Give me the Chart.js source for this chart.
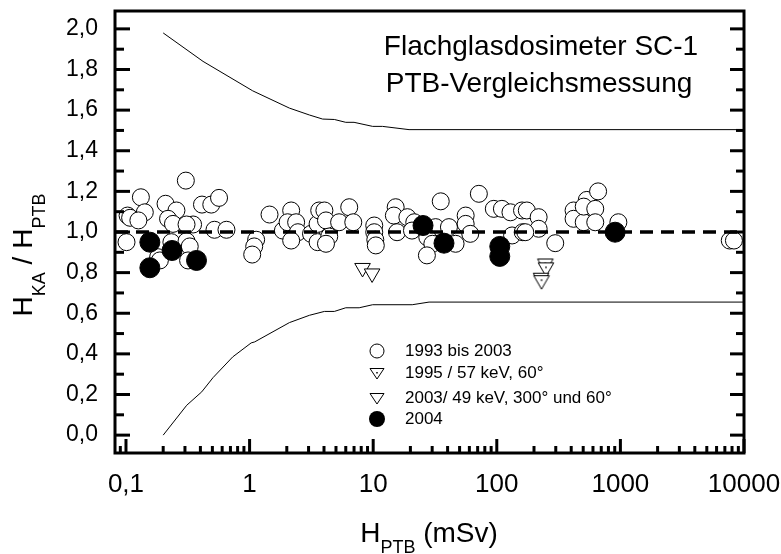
<!DOCTYPE html>
<html lang="de">
<head>
<meta charset="UTF-8">
<title>Flachglasdosimeter SC-1 – PTB-Vergleichsmessung</title>
<script src="https://cdn.jsdelivr.net/npm/chart.js@4"></script>
<style>
  html, body { margin: 0; padding: 0; background: #fff; }
  #wrap { width: 781px; height: 554px; }
</style>
</head>
<body>
<div id="wrap"><canvas id="chart" width="781" height="554"></canvas></div>
<script>
const FONT = "'Liberation Sans', Arial, sans-serif";

// Axis ticks
const xTicks = [0.1, 1, 10, 100, 1000, 10000];
const xMinorTicks = [0.09, 0.2, 0.3, 0.4, 0.5, 0.6, 0.7, 0.8, 0.9, 2, 3, 4, 5, 6, 7, 8, 9,
  20, 30, 40, 50, 60, 70, 80, 90, 200, 300, 400, 500, 600, 700, 800, 900,
  2000, 3000, 4000, 5000, 6000, 7000, 8000, 9000];
const yTicks = [0, 0.2, 0.4, 0.6, 0.8, 1.0, 1.2, 1.4, 1.6, 1.8, 2.0];
const yMinorTicks = [0.1, 0.3, 0.5, 0.7, 0.9, 1.1, 1.3, 1.5, 1.7, 1.9];

// Tolerance limits
const upperX = [0.2, 0.42, 1.06, 2.1, 3.05, 3.9, 4.85, 6.0, 7.0, 9.9, 11.9, 19.5, 10000];
const upperY = [1.98, 1.84, 1.695, 1.61, 1.576, 1.556, 1.554, 1.54, 1.54, 1.52, 1.52, 1.504, 1.504];
const lowerX = [0.2, 0.31, 0.41, 0.506, 0.73, 1.03, 1.1, 2.1, 3.05, 4.03, 4.85, 6.0, 7.7, 9.9, 20.7, 28.3, 10000];
const lowerY = [0.0, 0.147, 0.213, 0.283, 0.385, 0.454, 0.459, 0.554, 0.59, 0.609, 0.609, 0.627, 0.627, 0.642, 0.642, 0.655, 0.655];

// Reference line H_KA / H_PTB = 1
const refX = [0.0815, 10000];
const refY = [1.0, 1.0];

// 1993 bis 2003 (open circles)
const circleX = [0.305, 0.132, 0.103, 0.108, 0.142, 0.126, 0.209, 0.256, 0.219, 0.24,
  0.412, 0.49, 0.566, 0.349, 0.309, 0.52, 0.65, 0.101, 0.233, 0.309,
  0.328, 0.182, 0.318, 0.188, 1.13, 1.09, 1.05, 1.45, 1.86, 2.17,
  2.03, 2.38, 2.46, 2.17, 3.14, 3.55, 3.66, 3.55,
  4.03, 4.15, 4.41, 4.15, 5.3, 6.4, 6.9, 10.2, 10.2, 10.4,
  10.5, 15.2, 14.7, 15.6, 18.9, 21.5, 20.6, 32, 27.4, 30.1,
  27.2, 35.2, 41, 46.4, 56, 56, 61, 71.6, 94.6, 110,
  129, 133, 160, 162,
  175, 218, 218, 170, 297, 418, 418, 505, 535, 505,
  626, 626, 660, 963, 7670, 8290];
const circleY = [1.253, 1.171, 1.081, 1.070, 1.097, 1.057, 1.139, 1.106, 1.065, 1.040,
  1.135, 1.135, 1.168, 1.037, 1.037, 1.011, 1.011, 0.950, 0.950, 0.955,
  0.929, 0.876, 0.860, 0.860, 0.962, 0.929, 0.889, 1.086, 1.007, 1.106,
  1.048, 1.048, 0.999, 0.958, 0.991, 1.040, 1.106, 0.950,
  1.106, 1.057, 0.978, 0.942, 1.048, 1.122, 1.048, 1.032, 0.999, 0.962,
  0.934, 1.122, 1.081, 0.999, 1.073, 1.048, 1.007, 1.024, 0.974, 0.942,
  0.885, 1.151, 1.024, 0.942, 1.081, 1.040, 0.991, 1.188, 1.114, 1.114,
  1.097, 0.983, 1.106, 0.999,
  1.106, 1.073, 1.016, 0.999, 0.945, 1.106, 1.065, 1.048, 1.158, 1.125,
  1.114, 1.048, 1.200, 1.048, 0.958, 0.958];

// 1995 / 57 keV, 60°
const t1995X = [247, 250, 228, 230];
const t1995Y = [0.845, 0.826, 0.775, 0.763];

// 2003 / 49 keV, 300° und 60°
const t2003X = [8.2, 9.8];
const t2003Y = [0.823, 0.796];

// 2004 (filled circles)
const fillX = [0.156, 0.156, 0.236, 0.372, 25.3, 37.4, 105.7, 105.7, 906];
const fillY = [0.950, 0.824, 0.909, 0.860, 1.032, 0.945, 0.929, 0.880, 0.999];

const pts = (xs, ys) => xs.map((x, i) => ({ x, y: ys[i] }));

// down-pointing triangle with a dot in the middle
function dotTriangle(r) {
  const c = document.createElement('canvas');
  const s = 2 * Math.ceil(r + 2);
  c.width = c.height = s;
  const g = c.getContext('2d');
  const cx = s / 2, cy = s / 2;
  g.beginPath();
  for (let k = 0; k < 3; k++) {
    const ang = Math.PI + k * 2 * Math.PI / 3;
    g.lineTo(cx + Math.sin(ang) * r, cy - Math.cos(ang) * r);
  }
  g.closePath();
  g.fillStyle = '#fff';
  g.fill();
  g.strokeStyle = '#000';
  g.lineWidth = 1;
  g.stroke();
  g.fillStyle = '#000';
  g.fillRect(cx - 0.75, cy - 0.75, 1.5, 1.5);
  return c;
}

function drawParts(ctx, parts, x, y) {
  let cx = x;
  for (const [t, size, dy] of parts) {
    ctx.font = `${size}px ${FONT}`;
    ctx.fillText(t, cx, y + dy);
    cx += ctx.measureText(t).width;
  }
}
function partsWidth(ctx, parts) {
  let w = 0;
  for (const [t, size] of parts) {
    ctx.font = `${size}px ${FONT}`;
    w += ctx.measureText(t).width;
  }
  return w;
}

const decor = {
  id: 'decor',
  afterDatasetsDraw(chart) {
    const { ctx, chartArea: a, scales: { x, y } } = chart;
    ctx.save();
    ctx.strokeStyle = '#000';
    ctx.lineWidth = 3;
    const line = (x1, y1, x2, y2) => { ctx.beginPath(); ctx.moveTo(x1, y1); ctx.lineTo(x2, y2); ctx.stroke(); };

    // inward ticks
    yTicks.forEach(v => { const p = y.getPixelForValue(v); line(a.left, p, a.left + 15, p); line(a.right, p, a.right - 14, p); });
    yMinorTicks.forEach(v => { const p = y.getPixelForValue(v); line(a.left, p, a.left + 9, p); line(a.right, p, a.right - 8, p); });
    xTicks.forEach(v => { const p = x.getPixelForValue(v); line(p, a.bottom, p, a.bottom - 14); });
    xMinorTicks.forEach(v => { const p = x.getPixelForValue(v); line(p, a.bottom, p, a.bottom - 7); });

    // frame
    ctx.strokeRect(a.left, a.top, a.right - a.left, a.bottom - a.top);

    ctx.fillStyle = '#000';
    ctx.textBaseline = 'alphabetic';

    // annotation
    ctx.textAlign = 'center';
    ctx.font = `28px ${FONT}`;
    ctx.fillText('Flachglasdosimeter SC-1', 541, 55);
    ctx.fillText('PTB-Vergleichsmessung', 539, 92);

    // x axis title
    ctx.textAlign = 'left';
    const xt = [['H', 28, 0], ['PTB', 18, 11], [' (mSv)', 28, 0]];
    drawParts(ctx, xt, 429 - partsWidth(ctx, xt) / 2, 542);

    // y axis title
    const yt = [['H', 28, 0], ['KA', 18, 13], [' / ', 28, 0], ['H', 28, 0], ['PTB', 18, 13]];
    ctx.save();
    ctx.translate(32, 255 + partsWidth(ctx, yt) / 2);
    ctx.rotate(-Math.PI / 2);
    drawParts(ctx, yt, 0, 0);
    ctx.restore();

    // legend
    const lx = 377, tx = 405;
    const rows = [351, 373, 398, 419];
    const labels = ['1993 bis 2003', '1995 / 57 keV, 60°', '2003/ 49 keV, 300° und 60°', '2004'];
    ctx.lineWidth = 1;
    ctx.beginPath();
    ctx.arc(lx, rows[0], 7, 0, Math.PI * 2);
    ctx.fillStyle = '#fff'; ctx.fill(); ctx.stroke();
    [1, 2].forEach(i => {
      const cy = rows[i];
      ctx.beginPath();
      ctx.moveTo(lx - 7, cy - 4.5);
      ctx.lineTo(lx + 7, cy - 4.5);
      ctx.lineTo(lx, cy + 6);
      ctx.closePath();
      ctx.fillStyle = '#fff'; ctx.fill(); ctx.stroke();
      if (i === 1) { ctx.fillStyle = '#000'; ctx.fillRect(lx - 0.75, cy - 1, 1.5, 1.5); }
    });
    ctx.beginPath();
    ctx.arc(lx, rows[3], 8, 0, Math.PI * 2);
    ctx.fillStyle = '#000'; ctx.fill();

    ctx.fillStyle = '#000';
    ctx.font = `17px ${FONT}`;
    ctx.textBaseline = 'middle';
    labels.forEach((t, i) => ctx.fillText(t, tx, rows[i]));
    ctx.restore();
  }
};

new Chart(document.getElementById('chart'), {
  type: 'scatter',
  data: {
    datasets: [
      { label: '2004', data: pts(fillX, fillY), order: 0,
        pointRadius: 10, pointBackgroundColor: '#000', pointBorderColor: '#000', pointBorderWidth: 1 },
      { label: '1995 / 57 keV, 60°', data: pts(t1995X, t1995Y), order: 1,
        pointStyle: dotTriangle(9), pointRadius: 9 },
      { label: '2003/ 49 keV, 300° und 60°', data: pts(t2003X, t2003Y), order: 1,
        pointStyle: 'triangle', pointRotation: 180, pointRadius: 9,
        pointBackgroundColor: '#fff', pointBorderColor: '#000', pointBorderWidth: 1 },
      { label: 'Referenz', data: pts(refX, refY), order: 2, showLine: true,
        borderColor: '#000', borderWidth: 3.5, borderDash: [13, 8], pointRadius: 0 },
      { label: '1993 bis 2003', data: pts(circleX, circleY), order: 3,
        pointRadius: 8.5, pointBackgroundColor: '#fff', pointBorderColor: '#000', pointBorderWidth: 1 },
      { label: 'obere Grenze', data: pts(upperX, upperY), order: 4, showLine: true,
        borderColor: '#000', borderWidth: 1, pointRadius: 0, tension: 0 },
      { label: 'untere Grenze', data: pts(lowerX, lowerY), order: 4, showLine: true,
        borderColor: '#000', borderWidth: 1, pointRadius: 0, tension: 0 }
    ]
  },
  options: {
    responsive: false,
    animation: false,
    events: [],
    layout: { padding: { top: 10, right: 37, left: 0, bottom: 0 } },
    plugins: { legend: { display: false }, tooltip: { enabled: false } },
    scales: {
      x: {
        type: 'logarithmic',
        min: 0.0815,
        max: 10000,
        grid: { display: false, drawTicks: false },
        border: { display: false },
        afterBuildTicks: s => { s.ticks = xTicks.map(v => ({ value: v })); },
        afterFit: s => { s.height = 101; s.paddingLeft = 0; s.paddingRight = 0; },
        ticks: {
          autoSkip: false, maxRotation: 0, padding: 16, color: '#000',
          font: { family: FONT, size: 26 },
          callback: v => String(v).replace('.', ',')
        }
      },
      y: {
        min: -0.088,
        max: 2.088,
        grid: { display: false, drawTicks: false },
        border: { display: false },
        afterBuildTicks: s => { s.ticks = yTicks.map(v => ({ value: v })); },
        afterFit: s => { s.width = 115; s.paddingTop = 0; s.paddingBottom = 0; },
        ticks: {
          autoSkip: false, padding: 17, color: '#000',
          font: { family: FONT, size: 23 },
          callback: v => v.toFixed(1).replace('.', ',')
        }
      }
    }
  },
  plugins: [decor]
});
</script>
</body>
</html>
